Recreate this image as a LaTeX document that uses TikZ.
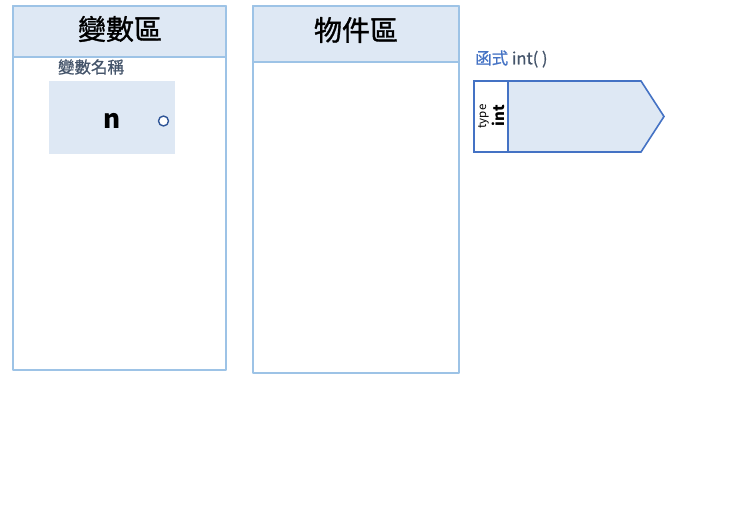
\documentclass[tikz,border=0pt]{standalone}
\usepackage{fontspec}
\setmainfont{Noto Sans CJK TC}
\newfontfamily\medfont[FakeBold=1.2]{Noto Sans CJK TC}
\newfontfamily\semifont[FakeBold=0.8]{Noto Sans CJK TC}
\definecolor{panelline}{HTML}{9DC3E6}
\definecolor{headfill}{HTML}{DEE8F4}
\definecolor{funcblue}{HTML}{4472C4}
\definecolor{portblue}{HTML}{2F5597}
\definecolor{labelgray}{HTML}{44546A}
\tikzset{
  panel/.style={draw=panelline,line width=1.2pt},
  head/.style={draw=panelline,line width=1.2pt,fill=headfill},
  title/.style={font=\medfont\fontsize{28}{30}\selectfont},
}
\begin{document}
\begin{tikzpicture}[x=1pt,y=-1pt,line cap=round,line join=round]
    \useasboundingbox (0,0) rectangle (741,522);

    % variable area
    \draw[head] (13,6) rectangle (226,57);
    \draw[panel] (13,6) rectangle (226,370);
    \node[title] (varTitle) at (120,29) {變數區};
    \node[font=\semifont\fontsize{16.5}{18}\selectfont,text=labelgray] (varLabel) at (91,67) {變數名稱};

    % variable n
    \fill[headfill] (49,81) rectangle (175,154);
    \node[font=\bfseries\fontsize{26}{28}\selectfont] (varN) at (112,121) {n};
    \node[circle,draw=portblue,fill=white,line width=1.4pt,inner sep=0pt,minimum size=10pt] (varPort) at (163.5,121) {};

    % object area
    \draw[head] (253,6) rectangle (459,62);
    \draw[panel] (253,6) rectangle (459,373);
    \node[title] (objTitle) at (356,30) {物件區};

    % function int()
    \node[anchor=west,font=\semifont\fontsize{16.5}{18}\selectfont,inner sep=0pt] (funcLabel) at (475,59)
      {\textcolor{funcblue}{函式} \textcolor{labelgray}{int( )}};
    \fill[headfill] (508,81) -- (641,81) -- (664,116.5) -- (641,152) -- (508,152) -- cycle;
    \draw[funcblue,line width=1.6pt,line join=miter] (474,81) -- (641,81) -- (664,116.5) -- (641,152) -- (474,152) -- cycle;
    \draw[funcblue,line width=1.6pt] (508,81) -- (508,152);
    \node[rotate=90,font=\fontsize{11.5}{12}\selectfont,inner sep=0pt] (funcType) at (483.5,116.5) {type};
    \node[rotate=90,font=\bfseries\fontsize{15}{16}\selectfont,inner sep=0pt] (funcInt) at (498,116) {int};
\end{tikzpicture}
\end{document}
